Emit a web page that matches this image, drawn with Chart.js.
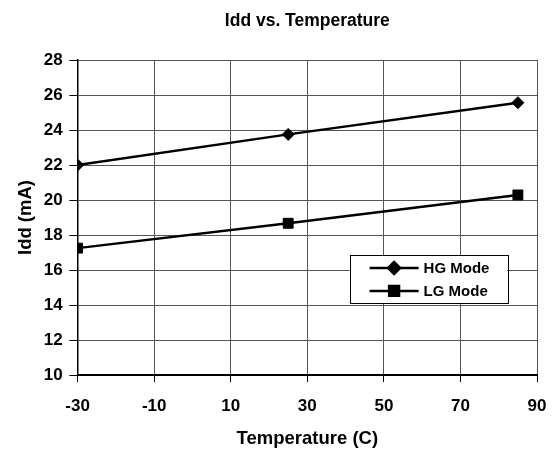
<!DOCTYPE html>
<html><head><meta charset="utf-8">
<script src="https://cdn.jsdelivr.net/npm/chart.js@4.4.1/dist/chart.umd.min.js"></script>
<style>html,body{margin:0;padding:0;background:#fff;}#wrap{width:557px;height:453px;}</style>
</head><body><div id="wrap"><canvas id="c" width="557" height="453"></canvas></div>
<script>
const temperatures = [-30, 25, 85];
const hgMode = [22.0, 23.75, 25.56];
const lgMode = [17.25, 18.67, 20.29];
const xTickValues = [-30, -10, 10, 30, 50, 70, 90];
const yTickValues = [10, 12, 14, 16, 18, 20, 22, 24, 26, 28];
const seriesNames = ['HG Mode', 'LG Mode'];
const chartTitle = 'Idd vs. Temperature';
const xTitle = 'Temperature (C)';
const yTitle = 'Idd (mA)';

const FONT = "'Liberation Sans', Arial, sans-serif";

const insideLegend = {
  id: 'insideLegend',
  afterDatasetsDraw(chart) {
    const {ctx, chartArea: a} = chart;
    const w = a.right - a.left, h = a.bottom - a.top;
    const bx = a.left + 0.592 * w, bx2 = a.left + 0.935 * w;
    const by = a.top + 0.619 * h, by2 = a.top + 0.771 * h;
    ctx.save();
    ctx.fillStyle = '#fff';
    ctx.fillRect(bx, by, bx2 - bx, by2 - by);
    ctx.strokeStyle = '#000';
    ctx.lineWidth = 1;
    ctx.strokeRect(Math.round(bx) + 0.5, Math.round(by) + 0.5, Math.round(bx2 - bx), Math.round(by2 - by));
    const rowH = (by2 - by);
    chart.data.datasets.forEach((ds, i) => {
      const y = by + rowH * (0.27 + 0.48 * i);
      const x1 = bx + 20, x2 = bx + 69, xm = (x1 + x2) / 2;
      ctx.strokeStyle = ds.borderColor;
      ctx.lineWidth = ds.borderWidth;
      ctx.beginPath(); ctx.moveTo(x1, y); ctx.lineTo(x2, y); ctx.stroke();
      Chart.helpers.drawPoint(ctx, {pointStyle: ds.pointStyle, radius: ds.pointRadius, borderWidth: 1, rotation: 0}, xm, y);
      ctx.fillStyle = ds.pointBackgroundColor;
      ctx.fill();
      ctx.fillStyle = '#000';
      ctx.font = "bold 15px " + FONT;
      ctx.textAlign = 'left';
      ctx.textBaseline = 'middle';
      ctx.fillText(ds.label, x2 + 5, y + 1);
    });
    ctx.restore();
  }
};

new Chart(document.getElementById('c'), {
  type: 'line',
  data: {
    datasets: [
      {label: seriesNames[0], data: temperatures.map((t, i) => ({x: t, y: hgMode[i]})),
       borderColor: '#000', borderWidth: 2.5, pointStyle: 'rectRot', pointRadius: 6,
       pointBackgroundColor: '#000', pointBorderColor: '#000', pointBorderWidth: 1, tension: 0},
      {label: seriesNames[1], data: temperatures.map((t, i) => ({x: t, y: lgMode[i]})),
       borderColor: '#000', borderWidth: 2.5, pointStyle: 'rect', pointRadius: 7,
       pointBackgroundColor: '#000', pointBorderColor: '#000', pointBorderWidth: 1, tension: 0}
    ]
  },
  options: {
    responsive: false,
    animation: false,
    layout: {padding: {left: 10, right: 10, top: 0, bottom: 2}},
    plugins: {
      legend: {display: false},
      tooltip: {enabled: false},
      title: {display: true, text: chartTitle, fullSize: false, color: '#000',
        font: {family: FONT, size: 17.5, weight: 'bold'}, padding: {top: 11, bottom: 28}}
    },
    scales: {
      x: {
        type: 'linear', min: -30, max: 90,
        afterBuildTicks: s => { s.ticks = xTickValues.map(v => ({value: v})); },
        ticks: {color: '#000', font: {family: FONT, size: 17, weight: 'bold', lineHeight: 1.588}, padding: 10.5, maxRotation: 0},
        grid: {color: '#555', lineWidth: 1, tickLength: 7, tickColor: '#000', drawTicks: true},
        border: {color: '#000', width: 2},
        title: {display: true, text: xTitle, color: '#000', font: {family: FONT, size: 18.5, weight: 'bold', lineHeight: 1}, padding: {top: 0, bottom: 2.5}}
      },
      y: {
        type: 'linear', min: 10, max: 28,
        afterBuildTicks: s => { s.ticks = yTickValues.map(v => ({value: v})); },
        ticks: {color: '#000', font: {family: FONT, size: 17, weight: 'bold'}, padding: 6.6},
        grid: {color: '#555', lineWidth: 1, tickLength: 8.3, tickColor: '#000'},
        border: {color: '#000', width: 1.5},
        title: {display: true, text: yTitle, color: '#000', font: {family: FONT, size: 18.5, weight: 'bold'}, padding: {top: 5, bottom: 0}}
      }
    }
  },
  plugins: [insideLegend]
});
</script>
</body></html>
